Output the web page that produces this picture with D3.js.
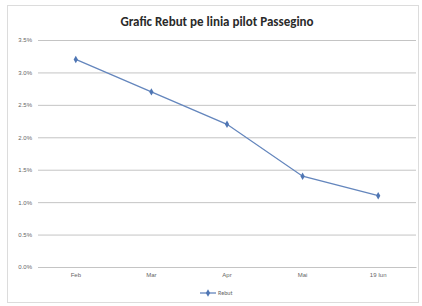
<!DOCTYPE html>
<html>
<head>
<meta charset="utf-8">
<script src="https://cdn.jsdelivr.net/npm/d3@7"></script>
<style>
  body { margin: 0; background: #fff; }
  svg { display: block; font-family: Calibri, Carlito, "Liberation Sans", Arial, sans-serif; }
  .tick text { fill: #666; font-size: 6px; }
</style>
</head>
<body>
<div id="chart"></div>
<script>
const months = ['Feb', 'Mar', 'Apr', 'Mai', '19 Iun'];
const rebut = [0.032, 0.027, 0.022, 0.014, 0.011];
const yTicks = [0, 0.005, 0.01, 0.015, 0.02, 0.025, 0.03, 0.035];

var width = 422, height = 306;
var margin = {top: 40, right: 6, bottom: 39, left: 38};

var svg = d3.select('#chart').append('svg')
  .attr('width', width)
  .attr('height', height);

// chart border
svg.append('rect')
  .attr('x', 7.5).attr('y', 5.5)
  .attr('width', 411).attr('height', 297)
  .attr('fill', '#fff')
  .attr('stroke', '#dcdcdc');

svg.append('text')
  .attr('x', 217).attr('y', 26)
  .attr('text-anchor', 'middle')
  .style('font-size', '13px')
  .style('font-weight', 'bold')
  .style('fill', '#2a2a2a')
  .text('Grafic Rebut pe linia pilot Passegino');

var x = d3.scaleBand()
  .domain(months)
  .range([margin.left, width - margin.right]);

var y = d3.scaleLinear()
  .domain([0, 0.035])
  .range([height - margin.bottom, margin.top]);

// gridlines + y labels
var yAxis = d3.axisLeft(y)
  .tickValues(yTicks)
  .tickFormat(d3.format('.1%'))
  .tickSize(-(width - margin.left - margin.right))
  .tickPadding(6);

var gy = svg.append('g')
  .attr('transform', 'translate(' + margin.left + ',0)')
  .call(yAxis);
gy.select('.domain').remove();
gy.selectAll('.tick line').attr('stroke', '#c4c4c4');

var gx = svg.append('g')
  .attr('transform', 'translate(0,' + (height - margin.bottom) + ')')
  .call(d3.axisBottom(x).tickSize(0).tickPadding(6));
gx.select('.domain').attr('stroke', '#c4c4c4');

var line = d3.line()
  .x(function(d, i) { return x(months[i]) + x.bandwidth() / 2; })
  .y(function(d) { return y(d); });

svg.append('path')
  .datum(rebut)
  .attr('d', line)
  .attr('fill', 'none')
  .attr('stroke', '#6486bd')
  .attr('stroke-width', 1.3);

var diamond = d3.symbol().type(d3.symbolDiamond).size(16);
svg.selectAll('.pt')
  .data(rebut)
  .enter().append('path')
  .attr('class', 'pt')
  .attr('d', diamond)
  .attr('fill', '#4f76b4')
  .attr('transform', function(d, i) {
    return 'translate(' + (x(months[i]) + x.bandwidth() / 2) + ',' + y(d) + ')';
  });

// legend
var lg = svg.append('g').attr('transform', 'translate(200,293)');
lg.append('line')
  .attr('x1', 0).attr('x2', 16)
  .attr('stroke', '#6486bd').attr('stroke-width', 1.3);
lg.append('path')
  .attr('d', diamond)
  .attr('fill', '#4f76b4')
  .attr('transform', 'translate(8,0)');
lg.append('text')
  .attr('x', 18).attr('y', 2)
  .style('font-size', '6px')
  .style('fill', '#666')
  .text('Rebut');
</script>
</body>
</html>
